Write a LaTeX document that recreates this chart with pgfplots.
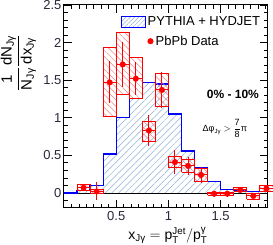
\documentclass[border=0pt]{standalone}
\usepackage{fontspec}
\setmainfont{Liberation Sans}
\usepackage{amsmath}
\usepackage{pgfplots}
\pgfplotsset{compat=1.18}
\usetikzlibrary{patterns.meta}
\definecolor{hatchblue}{RGB}{140,175,215}
\definecolor{hatchred}{RGB}{250,130,130}
\definecolor{ticklab}{RGB}{40,40,60}
\newcommand{\T}[1]{\text{#1}}

\pgfplotstableread{
x y
0     0
0.125 0.03
0.25  0.10
0.375 0.52
0.5   1.00
0.625 1.26
0.75  1.47
0.875 1.45
1.0   1.05
1.125 0.56
1.25  0.33
1.375 0.15
1.5   0.05
1.625 0.03
1.75  0.02
1.875 0.02
1.95  0.02
}\histtab

\pgfplotstableread{
x ex y ey
0.1875 0.0625 0.07 0.03
0.3125 0.0625 0.02 0.12
0.4375 0.0625 1.47 0.28
0.5625 0.0625 1.71 0.30
0.6875 0.0625 1.52 0.22
0.8125 0.0625 0.83 0.21
0.9375 0.0625 1.37 0.24
1.0625 0.0625 0.41 0.16
1.1875 0.0625 0.36 0.12
1.3125 0.0625 0.24 0.11
1.4375 0.0625 -0.01 0.04
1.5625 0.0625 -0.01 0.04
1.6875 0.0625 0.04 0.03
1.8125 0.0625 -0.04 0.02
1.9375 0.0625 0.06 0.02
}\datatab

\pgfplotstableread{
x y
0.125 0.03
0.25 0.03
0.25 0.11
0.125 0.11
0.125 0.03
nan nan
0.25 0.00
0.375 0.00
0.375 0.05
0.25 0.05
0.25 0.00
nan nan
0.375 1.02
0.5 1.02
0.5 1.93
0.375 1.93
0.375 1.02
nan nan
0.5 1.31
0.625 1.31
0.625 2.13
0.5 2.13
0.5 1.31
nan nan
0.625 1.26
0.75 1.26
0.75 1.80
0.625 1.80
0.625 1.26
nan nan
0.75 0.68
0.875 0.68
0.875 0.95
0.75 0.95
0.75 0.68
nan nan
0.875 1.15
1.0 1.15
1.0 1.59
0.875 1.59
0.875 1.15
nan nan
1.0 0.34
1.125 0.34
1.125 0.48
1.0 0.48
1.0 0.34
nan nan
1.125 0.28
1.25 0.28
1.25 0.45
1.125 0.45
1.125 0.28
nan nan
1.25 0.15
1.375 0.15
1.375 0.33
1.25 0.33
1.25 0.15
nan nan
1.375 -0.03
1.5 -0.03
1.5 0.01
1.375 0.01
1.375 -0.03
nan nan
1.5 -0.03
1.625 -0.03
1.625 0.01
1.5 0.01
1.5 -0.03
nan nan
1.625 0.02
1.75 0.02
1.75 0.07
1.625 0.07
1.625 0.02
nan nan
1.75 -0.08
1.875 -0.08
1.875 -0.005
1.75 -0.005
1.75 -0.08
nan nan
1.875 0.02
2.0 0.02
2.0 0.105
1.875 0.105
1.875 0.02
}\boxtab

\begin{document}
\begin{tikzpicture}
\begin{axis}[
  scale only axis, width=203.7pt, height=203pt,
  xmin=0, xmax=1.95, ymin=-0.2, ymax=2.5,
  clip=false,
  axis line style={line width=1pt},
  xtick={0.5,1,1.5}, ytick={0,0.5,1,1.5,2,2.5},
  minor xtick={0.0714,0.1429,0.2143,0.2857,0.3571,0.4286,0.5714,0.6429,0.7143,0.7857,0.8571,0.9286,1.0714,1.1429,1.2143,1.2857,1.3571,1.4286,1.5714,1.6429,1.7143,1.7857,1.8571,1.9286},
  minor ytick={-0.1,0,...,2.5},
  tick align=inside, major tick length=8pt, minor tick length=4pt,
  every tick/.style={black, line width=0.8pt},
  tick label style={font=\fontsize{13}{15}\selectfont, text=ticklab},
  yticklabel style={xshift=1pt},
  /pgf/number format/assume math mode=true,
  xlabel={$\T{x}_{\T{Jγ}} = \T{p}_{\T{T}}^{\T{Jet}}/\T{p}_{\T{T}}^{\T{γ}}$},
  xlabel style={font=\fontsize{14}{16}\selectfont, at={(axis description cs:0.51,-0.155)}, anchor=base},
  ylabel={$\displaystyle\frac{\T{1}}{\T{N}_{\T{Jγ}}}\frac{\T{dN}_{\T{Jγ}}}{\T{dx}_{\T{Jγ}}}$},
  ylabel style={font=\fontsize{15}{17}\selectfont, at={(axis description cs:-0.12,0.715)}, anchor=south},
  legend style={draw=none, fill=none, at={(rel axis cs:0.28,0.955)}, anchor=north west,
    font=\fontsize{13}{15}\selectfont, row sep=5pt, inner sep=0pt},
  legend cell align=left,
]
\addlegendimage{legend image code/.code={\draw[blue, line width=1pt, pattern={Lines[angle=45,distance=3pt,line width=0.5pt]}, pattern color=hatchblue] (0pt,-5.5pt) rectangle (24pt,5.5pt);}}
\addlegendentry{PYTHIA + HYDJET}
\addlegendimage{legend image code/.code={\fill[red, overlay] (29pt,0pt) circle (2.8pt);}}
\addlegendentry{\hspace{8pt}PbPb Data}

\addplot[draw=none, const plot, pattern={Lines[angle=45,distance=4.7pt,line width=0.5pt]}, pattern color=hatchblue, forget plot] table[x=x,y=y] {\histtab} \closedcycle;
\addplot[black, line width=0.8pt, forget plot] coordinates {(0,0) (1.95,0)};
\addplot[blue, line width=1.3pt, const plot, forget plot] table[x=x,y=y] {\histtab};
\addplot[red, line width=0.8pt, unbounded coords=jump, pattern={Lines[angle=-45,distance=4.5pt,line width=0.5pt]}, pattern color=hatchred, forget plot] table[x=x,y=y] {\boxtab};
\addplot[red, only marks, mark=*, mark size=2.8pt, forget plot,
  error bars/.cd, x dir=both, x explicit, y dir=both, y explicit, error mark=none,
  error bar style={red, line width=1pt}] table[x=x,y=y,x error=ex,y error=ey] {\datatab};

\node[font=\bfseries\fontsize{12}{14}\selectfont] at (axis cs:1.617,1.31) {0\% - 10\%};
\node[font=\fontsize{9}{11}\selectfont] at (axis cs:1.54,0.86) {$\displaystyle\T{Δφ}_{\T{Jγ}} > \frac{\T{7}}{\T{8}}\T{π}$};
\end{axis}
\pgfresetboundingbox
\path[use as bounding box] (-64pt,-37pt) rectangle (209pt,208pt);
\end{tikzpicture}
\end{document}
